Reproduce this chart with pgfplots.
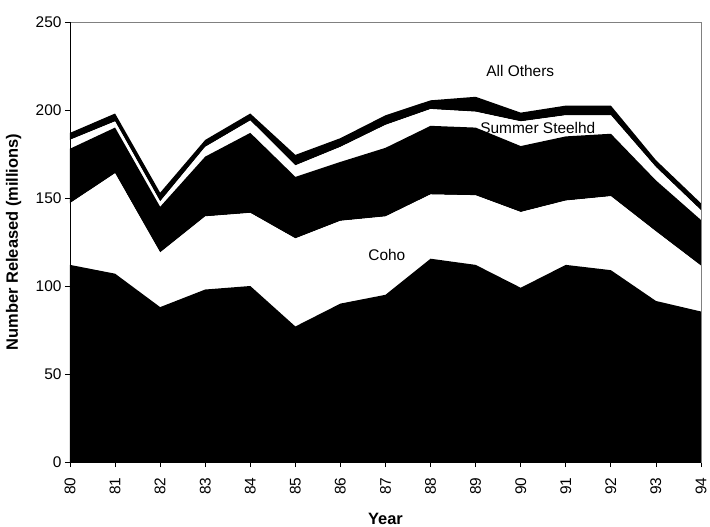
\documentclass[border=0pt]{standalone}
\usepackage{fontspec}
\setmainfont{Liberation Sans}
\usepackage{pgfplots}
\usepackage{pgfplotstable}
\pgfplotsset{compat=1.18}
% year, bottom layer, Coho, third layer, Summer Steelhd, All Others (stacked increments)
\pgfplotstableread{
year  La    coho  Lc    steel others
80    112   35    31    5     4
81    107   57    26    3.5   4.5
82    88    31    26    3     5
83    98    41.5  34    5.5   4
84    100   41.5  45.5  7     4
85    77    50    35    6.5   6
86    90    47    33.5  8.5   5
87    95    44.5  39    13    5.5
88    115.5 36.5  39    9.5   5
89    112   39.5  38.5  9     8.5
90    99    43    37.5  14    5
91    112   36.5  36.5  12    5.5
92    109   42    35.5  10.5  5.5
93    91.5  39.5  29    7.5   4
94    85.5  26    26    5.5   4
}\datatable
\begin{document}
\begin{tikzpicture}
\begin{axis}[name=ax, width=631bp, height=440bp, scale only axis,
  xmin=80, xmax=94, ymin=0, ymax=250,
  xtick={80,...,94}, ytick={0,50,...,250},
  stack plots=y,
  axis on top,
  axis line style={draw=gray, line width=0.8bp},
  tick align=outside, xtick pos=bottom, ytick pos=left,
  major tick length=5bp,
  tick style={black, line width=0.8bp},
  /pgf/number format/assume math mode=true,
  tick label style={font=\fontsize{15.5}{18}\selectfont},
  xticklabel style={rotate=90, anchor=east},
  xticklabel shift=7bp,
  label style={font=\bfseries\fontsize{16.5}{19}\selectfont},
  xlabel={Year}, ylabel={Number Released (millions)},
  xlabel style={at={(axis description cs:0.5,-0.129)}, anchor=center},
  ylabel style={at={(axis description cs:-0.0895,0.5)}, anchor=center},
]
\addplot[fill=black, draw=none] table[x=year, y=La] {\datatable} \closedcycle;
\addplot[fill=white, draw=none] table[x=year, y=coho] {\datatable} \closedcycle;
\addplot[fill=black, draw=none] table[x=year, y=Lc] {\datatable} \closedcycle;
\addplot[fill=white, draw=none] table[x=year, y=steel] {\datatable} \closedcycle;
\addplot[fill=black, draw=none] table[x=year, y=others] {\datatable} \closedcycle;
\coordinate (lcoho) at (axis cs:87.03,117.6);
\coordinate (lsteel) at (axis cs:90.38,189.6);
\coordinate (lother) at (axis cs:89.99,222);
\end{axis}
\draw[black, line width=0.8bp] (ax.north west) -- (ax.south west) -- (ax.south east);
\node[font=\fontsize{15.5}{18}\selectfont] at (lcoho) {Coho};
\node[font=\fontsize{15.5}{18}\selectfont] at (lsteel) {Summer Steelhd};
\node[font=\fontsize{15.5}{18}\selectfont] at (lother) {All Others};
\pgfresetboundingbox
\useasboundingbox ([shift={(-70bp,-65bp)}]ax.south west) rectangle ++(710bp,527bp);
\end{tikzpicture}
\end{document}
